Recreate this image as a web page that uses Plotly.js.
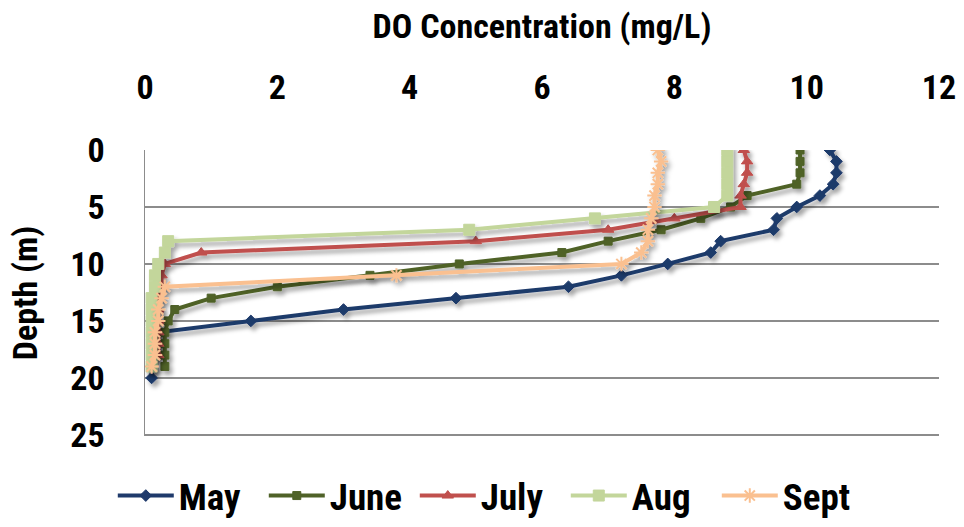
<!DOCTYPE html>
<html>
<head>
<meta charset="utf-8">
<script src="https://cdn.plot.ly/plotly-3.0.1.min.js"></script>
<style>
html,body{margin:0;padding:0;background:#fff;}
#chart{width:964px;height:527px;}
</style>
</head>
<body>
<div id="chart"></div>
<script>
// Depth (m)
const depthMay  = [0,1,2,3,4,5,6,7,8,9,10,11,12,13,14,15,16,17,18,19,20];
const depthJune = [0,1,2,3,4,5,6,7,8,9,10,11,12,13,14,15,16,17,18,19];
const depthJuly = [0,1,2,3,4,5,6,7,8,9,10,11,12,13,14,15,16,17,18];
const depthAug  = [0,1,2,3,4,5,6,7,8,9,10,11,12,13,14,15,16,17,18,19];
const depthSept = [0,1,2,3,4,5,6,7,8,9,10,11,12,13,14,15,16,17,18,19];
// DO concentration (mg/L)
const doMay  = [10.35,10.45,10.45,10.4,10.2,9.85,9.55,9.5,8.7,8.55,7.9,7.2,6.4,4.7,3.0,1.6,0.2,0.15,0.12,0.1,0.1];
const doJune = [9.9,9.9,9.9,9.85,9.1,8.85,8.4,7.8,7.0,6.3,4.75,3.4,2.0,1.0,0.45,0.35,0.3,0.3,0.3,0.3];
const doJuly = [9.05,9.1,9.1,9.05,9.0,9.0,8.0,7.0,5.0,0.85,0.3,0.25,0.25,0.2,0.2,0.2,0.2,0.2,0.2];
const doAug  = [8.8,8.8,8.8,8.8,8.8,8.6,6.8,4.9,0.35,0.3,0.2,0.15,0.15,0.1,0.1,0.1,0.1,0.1,0.1,0.1];
const doSept = [7.75,7.8,7.75,7.75,7.7,7.7,7.65,7.6,7.6,7.5,7.2,3.8,0.3,0.25,0.2,0.2,0.15,0.15,0.15,0.1];

const seriesNames = ['May','June','July','Aug','Sept'];
const xTicks = [0,2,4,6,8,10,12];
const yTicks = [0,5,10,15,20,25];

const FONT = '"Roboto Condensed", Roboto, "Liberation Sans", Arial, sans-serif';

function tr(name, x, y, color, symbol, size, lw){
  return {
    type:'scatter', mode:'lines+markers', name:name, x:x, y:y,
    line:{color:color, width:4},
    marker:{color:color, symbol:symbol, size:size, line:{color:color, width:lw||1}}
  };
}

const data = [
  tr(seriesNames[0], doMay, depthMay, '#1F3A6B', 'diamond', 9),
  tr(seriesNames[1], doJune, depthJune, '#4F6228', 'square', 8),
  tr(seriesNames[2], doJuly, depthJuly, '#C0504D', 'triangle-up', 10),
  tr(seriesNames[3], doAug, depthAug, '#C3D69B', 'square', 11),
  tr(seriesNames[4], doSept, depthSept, '#FAC090', 'asterisk-open', 12, 2)
];

const layout = {
  width:964, height:527,
  margin:{l:145, r:25, t:150, b:91},
  paper_bgcolor:'#fff', plot_bgcolor:'#fff',
  font:{family:FONT, color:'#000'},
  showlegend:true,
  legend:{orientation:'h', xref:'container', x:0.117, xanchor:'left', yref:'container', y:0, yanchor:'bottom',
          font:{family:FONT, size:37, color:'#000', weight:'bold'},
          itemwidth:56, entrywidth:80, entrywidthmode:'pixels', tracegroupgap:0},
  xaxis:{
    side:'top', range:[0,12], tickvals:xTicks, ticktext:xTicks.map(String),
    showgrid:false, zeroline:false, showline:false, ticks:'',
    ticklabelstandoff:43,
    tickfont:{family:FONT, size:34, color:'#000', weight:'bold'},
    title:{text:'DO Concentration (mg/L)', standoff:18,
           font:{family:FONT, size:34, color:'#000', weight:'bold'}}
  },
  yaxis:{
    range:[25.1,0], tickvals:yTicks, ticktext:yTicks.map(String),
    showgrid:true, gridcolor:'#8C8C8C', gridwidth:1.5,
    zeroline:false, showline:true, linecolor:'#8C8C8C', linewidth:1.5, ticks:'',
    ticklabelstandoff:32,
    tickfont:{family:FONT, size:34, color:'#000', weight:'bold'},
    title:{text:'Depth (m)', standoff:22,
           font:{family:FONT, size:34, color:'#000', weight:'bold'}}
  }
};

Plotly.newPlot('chart', data, layout, {displayModeBar:false, staticPlot:true}).then(function(gd){
  const svg = gd.querySelector('svg.main-svg');
  const ns = 'http://www.w3.org/2000/svg';
  let defs = svg.querySelector('defs');
  if(!defs){ defs = document.createElementNS(ns,'defs'); svg.insertBefore(defs, svg.firstChild); }
  const f = document.createElementNS(ns,'filter');
  f.setAttribute('id','softshadow');
  f.setAttribute('x','-20%'); f.setAttribute('y','-20%');
  f.setAttribute('width','140%'); f.setAttribute('height','140%');
  const ds = document.createElementNS(ns,'feDropShadow');
  ds.setAttribute('dx','3'); ds.setAttribute('dy','4');
  ds.setAttribute('stdDeviation','2');
  ds.setAttribute('flood-color','#000'); ds.setAttribute('flood-opacity','0.35');
  f.appendChild(ds); defs.appendChild(f);
  gd.querySelectorAll('.scatterlayer .trace').forEach(function(t){
    t.setAttribute('filter','url(#softshadow)');
  });
});
</script>
</body>
</html>
